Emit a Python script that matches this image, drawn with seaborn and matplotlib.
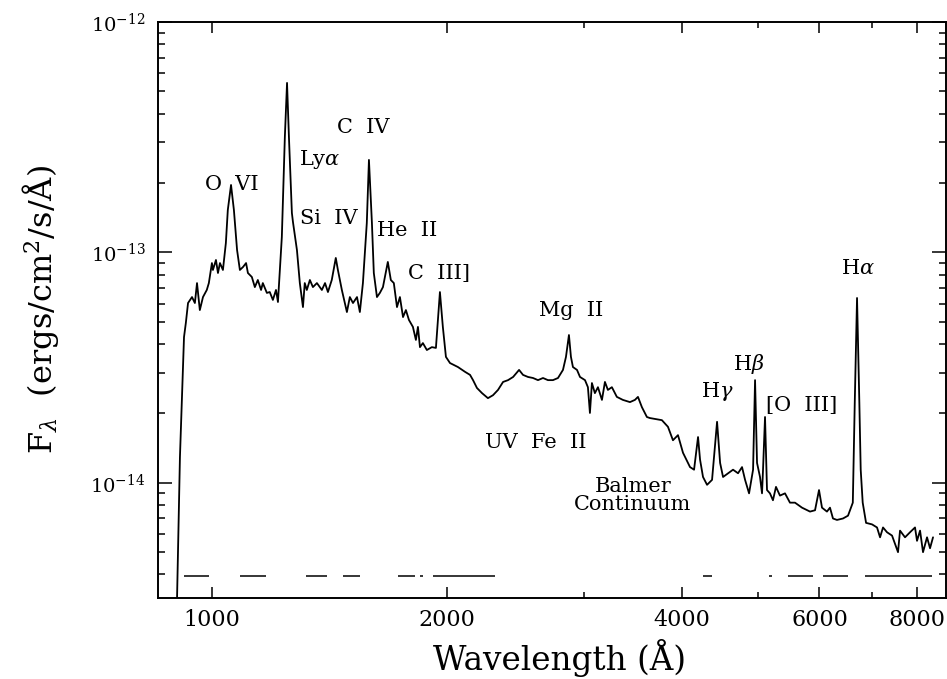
import matplotlib
matplotlib.use("Agg")
import matplotlib.pyplot as plt
import matplotlib.ticker as mticker
import pandas as pd
import seaborn as sns

# Composite spectrum: wavelength (Angstrom) and flux in units of 1e-14 erg/cm^2/s/A
wavelength = [
    902, 910, 921, 926, 932, 943, 951, 957, 965, 974, 985, 991,
    1000, 1003, 1012, 1018, 1024, 1033, 1042, 1048, 1058, 1067, 1077, 1086,
    1096, 1106, 1112, 1125, 1135, 1145, 1156, 1162, 1176, 1186, 1197, 1208,
    1215, 1229, 1240, 1248, 1255, 1266, 1270, 1285, 1296, 1308, 1315, 1323,
    1335, 1347, 1363, 1383, 1396, 1408, 1424, 1441, 1450, 1467, 1480, 1489,
    1502, 1516, 1534, 1547, 1561, 1579, 1589, 1603, 1612, 1627, 1641, 1656,
    1680, 1695, 1710, 1726, 1741, 1757, 1772, 1788, 1809, 1825, 1836, 1847,
    1863, 1885, 1913, 1936, 1959, 1976, 1994, 2018, 2066, 2110, 2141, 2160,
    2185, 2218, 2257, 2291, 2325, 2360, 2395, 2431, 2474, 2503, 2540, 2578,
    2616, 2655, 2694, 2734, 2775, 2816, 2841, 2866, 2883, 2900, 2935, 2961,
    3005, 3031, 3049, 3067, 3094, 3122, 3159, 3187, 3215, 3253, 3301, 3360,
    3431, 3482, 3513, 3554, 3607, 3639, 3770, 3838, 3895, 3953, 4012, 4096,
    4145, 4194, 4219, 4256, 4307, 4371, 4436, 4476, 4515, 4582, 4650, 4719,
    4775, 4818, 4875, 4933, 4962, 4991, 5035, 5065, 5080, 5110, 5140, 5185,
    5231, 5278, 5340, 5420, 5500, 5582, 5699, 5835, 5922, 5992, 6045, 6134,
    6189, 6244, 6318, 6431, 6527, 6620, 6658, 6703, 6749, 6776, 6816, 6884,
    7006, 7110, 7174, 7237, 7323, 7432, 7564, 7609, 7722, 7837, 7953, 8000,
    8072, 8143, 8240, 8313, 8387,
]
flux_1e14 = [
    0.30, 1.29, 4.29, 4.94, 6.03, 6.40, 6.03, 7.36, 5.62, 6.40, 6.87, 7.36,
    8.99, 8.39, 9.27, 8.14, 8.99, 8.39, 10.98, 15.28, 19.62, 15.28, 10.24, 8.39,
    8.64, 8.99, 8.14, 7.82, 7.07, 7.59, 6.87, 7.36, 6.67, 6.73, 6.22, 6.87,
    6.09, 11.66, 31.7, 54.4, 31.7, 14.83, 13.55, 10.24, 7.36, 5.79, 7.36, 6.87,
    7.59, 7.07, 7.36, 6.87, 7.36, 6.73, 7.59, 9.46, 8.39, 6.87, 6.03, 5.51,
    6.40, 6.03, 6.40, 5.51, 7.36, 13.42, 25.2, 13.42, 8.14, 6.40, 6.67, 7.07,
    9.09, 7.59, 7.36, 5.79, 6.40, 5.24, 5.62, 5.09, 4.75, 4.17, 4.75, 3.88,
    4.04, 3.77, 3.88, 3.85, 6.73, 4.75, 3.52, 3.31, 3.18, 3.03, 2.94, 2.79,
    2.58, 2.45, 2.33, 2.40, 2.53, 2.74, 2.79, 2.88, 3.09, 2.94, 2.88, 2.85,
    2.79, 2.85, 2.79, 2.79, 2.85, 3.09, 3.52, 4.38, 3.52, 3.18, 3.09, 2.88,
    2.79, 2.60, 2.01, 2.71, 2.45, 2.60, 2.29, 2.74, 2.53, 2.60, 2.36, 2.29,
    2.24, 2.29, 2.36, 2.13, 1.93, 1.91, 1.87, 1.75, 1.53, 1.61, 1.35, 1.17,
    1.14, 1.58, 1.26, 1.06, 0.98, 1.03, 1.84, 1.22, 1.06, 1.10, 1.14, 1.10,
    1.17, 1.03, 0.90, 1.14, 2.79, 1.22, 1.06, 0.90, 1.14, 1.93, 0.93, 0.90,
    0.84, 0.96, 0.88, 0.90, 0.82, 0.82, 0.78, 0.75, 0.76, 0.93, 0.78, 0.75,
    0.78, 0.70, 0.69, 0.70, 0.72, 0.82, 2.22, 6.34, 2.22, 1.14, 0.82, 0.67,
    0.66, 0.64, 0.58, 0.64, 0.61, 0.59, 0.50, 0.62, 0.58, 0.61, 0.64, 0.56,
    0.62, 0.50, 0.58, 0.52, 0.58,
]

# Wavelength coverage segments drawn near the bottom of the panel
coverage_start = [921, 1086, 1320, 1472, 1731, 1847, 1920, 4256, 5171, 5468, 6064, 6864]
coverage_end = [991, 1173, 1404, 1547, 1820, 1864, 2304, 4370, 5217, 5888, 6527, 8364]
coverage_level = 3.95e-15

# Emission feature annotations
line_names = ["O  VI", r"Ly$\alpha$", "Si  IV", "C  IV", "He  II", "C  III]",
              "Mg  II", r"H$\alpha$", "UV  Fe  II", "Balmer\nContinuum",
              r"H$\gamma$", r"H$\beta$", "[O  III]"]
label_wave = [1061, 1375, 1412, 1561, 1777, 1954, 2883, 6723, 2601, 3462, 4436, 4875, 5699]
label_flux = [1.98e-13, 2.54e-13, 1.40e-13, 3.50e-13, 1.24e-13, 8.06e-14,
              5.57e-14, 8.55e-14, 1.50e-14, 8.84e-15, 2.48e-14, 3.28e-14, 2.17e-14]

x_major = [1000, 2000, 4000, 6000, 8000]
x_minor = [3000, 5000, 7000]
y_major = [1e-14, 1e-13, 1e-12]
y_major_labels = [r"$10^{-14}$", r"$10^{-13}$", r"$10^{-12}$"]
y_minor = [m * 10.0 ** e for e in (-15, -14, -13) for m in range(2, 10)
           if 10 ** -14.5 < m * 10.0 ** e < 1e-12]

sns.set_theme(style="ticks")
plt.rcParams["font.family"] = ["DejaVu Serif"]
plt.rcParams["mathtext.fontset"] = "dejavuserif"
plt.rcParams["text.color"] = "black"
plt.rcParams["axes.labelcolor"] = "black"
plt.rcParams["xtick.color"] = "black"
plt.rcParams["ytick.color"] = "black"

spec = pd.DataFrame({"wavelength": wavelength,
                     "flux": [f * 1e-14 for f in flux_1e14]})

fig = plt.figure(figsize=(9.47, 6.79), dpi=100)
ax = fig.add_axes([158 / 947, 1 - 598 / 679, 788 / 947, 576 / 679])

sns.lineplot(data=spec, x="wavelength", y="flux", ax=ax, color="black",
             linewidth=1.3, estimator=None, sort=False)
ax.hlines([coverage_level] * len(coverage_start), coverage_start, coverage_end,
          color="black", linewidth=1.1)

ax.set_xscale("log")
ax.set_yscale("log")
ax.set_xlim(853, 8714)
ax.set_ylim(10 ** -14.5, 1e-12)

ax.xaxis.set_major_locator(mticker.FixedLocator(x_major))
ax.xaxis.set_minor_locator(mticker.FixedLocator(x_minor))
ax.xaxis.set_major_formatter(mticker.FixedFormatter([str(v) for v in x_major]))
ax.xaxis.set_minor_formatter(mticker.NullFormatter())
ax.yaxis.set_major_locator(mticker.FixedLocator(y_major))
ax.yaxis.set_minor_locator(mticker.FixedLocator(y_minor))
ax.yaxis.set_major_formatter(mticker.FixedFormatter(y_major_labels))
ax.yaxis.set_minor_formatter(mticker.NullFormatter())

for side in ax.spines.values():
    side.set_linewidth(1.4)
    side.set_color("black")

ax.tick_params(which="both", direction="in", top=True, right=True,
               color="black", width=1.1)
ax.tick_params(axis="x", which="major", length=8, labelsize=16, pad=8)
ax.tick_params(axis="x", which="minor", length=4)
ax.tick_params(axis="y", which="major", length=10, labelsize=14, pad=9)
ax.tick_params(axis="y", which="minor", length=5)

for name, lw_, lf in zip(line_names, label_wave, label_flux):
    ax.text(lw_, lf, name, ha="center", va="center", fontsize=15,
            linespacing=0.95, color="black")

ax.set_xlabel("Wavelength (Å)", fontsize=23.5)
ax.xaxis.set_label_coords(0.51, -0.071, transform=ax.transAxes)
ax.xaxis.label.set_va("top")
ax.set_ylabel(r"F$_\lambda$  (ergs/cm$^2$/s/Å)", fontsize=23, labelpad=21)

fig.savefig("out.png", dpi=100)
